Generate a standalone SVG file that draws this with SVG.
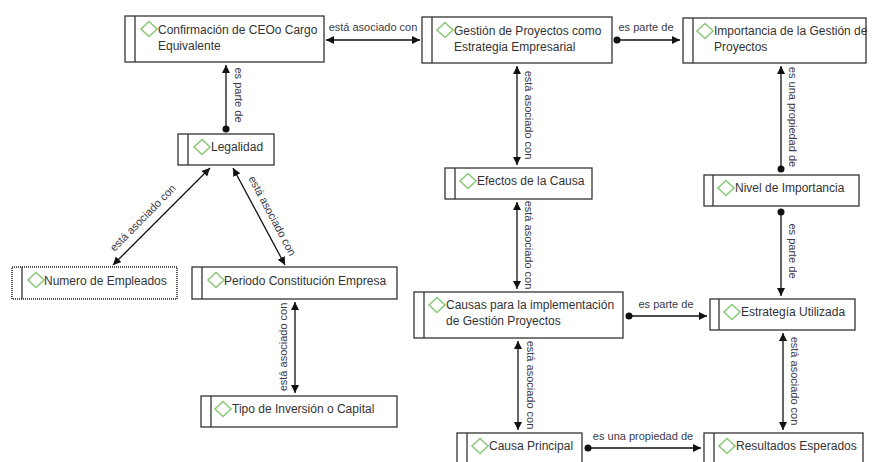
<svg xmlns="http://www.w3.org/2000/svg" width="872" height="462" viewBox="0 0 872 462">
<defs>
<style>
.box{fill:#fff;stroke:#333;stroke-width:1.3}
.sel{fill:#fff;stroke:#555;stroke-width:2;stroke-dasharray:1 1}
.bar{stroke:#333;stroke-width:1.3}
.dia{fill:none;stroke:#8cc97a;stroke-width:1.6}
.nt{font-family:"Liberation Sans",Arial,sans-serif;font-size:12px;fill:#333}
.ln{fill:none;stroke:#111;stroke-width:1.3}
.lb{font-family:"Liberation Sans",Arial,sans-serif;font-size:11px;fill:#3a3a48;text-anchor:middle}
</style>
<marker id="arr" markerUnits="userSpaceOnUse" markerWidth="9" markerHeight="9" refX="8" refY="4" orient="auto-start-reverse"><path d="M0,0 L8,4 L0,8 z" fill="#111"/></marker>
<marker id="dot" markerUnits="userSpaceOnUse" markerWidth="8" markerHeight="8" refX="4" refY="4"><circle cx="4" cy="4" r="3.5" fill="#111"/></marker>
<path id="d" class="dia" d="M0,-7.5 L8,0 L0,7.5 L-8,0 z"/>
</defs>
<rect width="872" height="462" fill="#fff"/>

<g id="connectors">
<path class="ln" d="M326,40 H420" marker-start="url(#arr)" marker-end="url(#arr)"/>
<path class="ln" d="M617,40 H680" marker-start="url(#dot)" marker-end="url(#arr)"/>
<path class="ln" d="M226,129 V65" marker-start="url(#dot)" marker-end="url(#arr)"/>
<path class="ln" d="M210,168 L113,265" marker-start="url(#arr)" marker-end="url(#arr)"/>
<path class="ln" d="M233,168 L285,265" marker-start="url(#arr)" marker-end="url(#arr)"/>
<path class="ln" d="M295,302 V393" marker-start="url(#arr)" marker-end="url(#arr)"/>
<path class="ln" d="M517,66 V165" marker-start="url(#arr)" marker-end="url(#arr)"/>
<path class="ln" d="M517,202 V289" marker-start="url(#arr)" marker-end="url(#arr)"/>
<path class="ln" d="M629,316 H707" marker-start="url(#dot)" marker-end="url(#arr)"/>
<path class="ln" d="M781,169 V66" marker-start="url(#dot)" marker-end="url(#arr)"/>
<path class="ln" d="M781,212 V296" marker-start="url(#dot)" marker-end="url(#arr)"/>
<path class="ln" d="M783,333 V430" marker-start="url(#arr)" marker-end="url(#arr)"/>
<path class="ln" d="M518,341 V430" marker-start="url(#arr)" marker-end="url(#arr)"/>
<path class="ln" d="M588,448 H701" marker-start="url(#dot)" marker-end="url(#arr)"/>

<text class="lb" x="373" y="31">está asociado con</text>
<text class="lb" x="646" y="31">es parte de</text>
<text class="lb" transform="translate(235,95) rotate(90)">es parte de</text>
<text class="lb" transform="translate(145.5,220.5) rotate(-45.5)">está asociado con</text>
<text class="lb" transform="translate(269,217.6) rotate(62)">está asociado con</text>
<text class="lb" transform="translate(287,347) rotate(-90)">está asociado con</text>
<text class="lb" transform="translate(525,115) rotate(90)">está asociado con</text>
<text class="lb" transform="translate(525,245) rotate(90)">está asociado con</text>
<text class="lb" x="666" y="308">es parte de</text>
<text class="lb" transform="translate(789,117) rotate(90)">es una propiedad de</text>
<text class="lb" transform="translate(789,251) rotate(90)">es parte de</text>
<text class="lb" transform="translate(791,381) rotate(90)">está asociado con</text>
<text class="lb" transform="translate(527,385) rotate(90)">está asociado con</text>
<text class="lb" x="643" y="440">es una propiedad de</text>
</g>

<g id="n-confirmacion">
<rect class="box" x="125" y="16" width="199" height="46"/><line class="bar" x1="135" y1="16" x2="135" y2="62"/>
<use href="#d" x="149" y="29"/>
<text class="nt" x="158" y="34">Confirmación de CEOo Cargo</text><text class="nt" x="158" y="50">Equivalente</text>
</g>
<g id="n-gestion">
<rect class="box" x="422" y="17" width="190" height="46"/><line class="bar" x1="432" y1="17" x2="432" y2="63"/>
<use href="#d" x="445" y="30"/>
<text class="nt" x="454" y="35">Gestión de Proyectos como</text><text class="nt" x="454" y="51">Estrategia Empresarial</text>
</g>
<g id="n-importancia">
<rect class="box" x="683" y="18" width="183" height="45"/><line class="bar" x1="693" y1="18" x2="693" y2="63"/>
<use href="#d" x="705" y="31"/>
<text class="nt" x="714" y="35">Importancia de la Gestión de</text><text class="nt" x="714" y="51">Proyectos</text>
</g>
<g id="n-legalidad">
<rect class="box" x="178" y="134" width="96" height="31"/><line class="bar" x1="188" y1="134" x2="188" y2="165"/>
<use href="#d" x="202" y="147"/>
<text class="nt" x="211" y="151">Legalidad</text>
</g>
<g id="n-numero">
<rect class="sel" x="12" y="267" width="165" height="32"/><line class="bar" x1="22" y1="267" x2="22" y2="299"/>
<use href="#d" x="36" y="280"/>
<text class="nt" x="44" y="285">Numero de Empleados</text>
</g>
<g id="n-periodo">
<rect class="box" x="192" y="267" width="205" height="32"/><line class="bar" x1="202" y1="267" x2="202" y2="299"/>
<use href="#d" x="216" y="280"/>
<text class="nt" x="224" y="285">Periodo Constitución Empresa</text>
</g>
<g id="n-tipo">
<rect class="box" x="201" y="396" width="196" height="31"/><line class="bar" x1="211" y1="396" x2="211" y2="427"/>
<use href="#d" x="223" y="409"/>
<text class="nt" x="232" y="413">Tipo de Inversión o Capital</text>
</g>
<g id="n-efectos">
<rect class="box" x="445" y="168" width="147" height="31"/><line class="bar" x1="455" y1="168" x2="455" y2="199"/>
<use href="#d" x="468" y="181"/>
<text class="nt" x="477" y="185">Efectos de la Causa</text>
</g>
<g id="n-causas">
<rect class="box" x="414" y="292" width="209" height="46"/><line class="bar" x1="424" y1="292" x2="424" y2="338"/>
<use href="#d" x="437" y="305"/>
<text class="nt" x="446" y="309">Causas para la implementación</text><text class="nt" x="446" y="325">de Gestión Proyectos</text>
</g>
<g id="n-nivel">
<rect class="box" x="704" y="175" width="155" height="31"/><line class="bar" x1="713" y1="175" x2="713" y2="206"/>
<use href="#d" x="726" y="188"/>
<text class="nt" x="735" y="192">Nivel de Importancia</text>
</g>
<g id="n-estrategia">
<rect class="box" x="710" y="299" width="145" height="31"/><line class="bar" x1="719" y1="299" x2="719" y2="330"/>
<use href="#d" x="732" y="312"/>
<text class="nt" x="741" y="316">Estrategía Utilizada</text>
</g>
<g id="n-causaprincipal">
<rect class="box" x="457" y="433" width="125" height="33"/><line class="bar" x1="467" y1="433" x2="467" y2="466"/>
<use href="#d" x="480" y="446"/>
<text class="nt" x="489" y="450">Causa Principal</text>
</g>
<g id="n-resultados">
<rect class="box" x="704" y="433" width="159" height="33"/><line class="bar" x1="714" y1="433" x2="714" y2="466"/>
<use href="#d" x="727" y="446"/>
<text class="nt" x="736" y="450">Resultados Esperados</text>
</g>
</svg>
